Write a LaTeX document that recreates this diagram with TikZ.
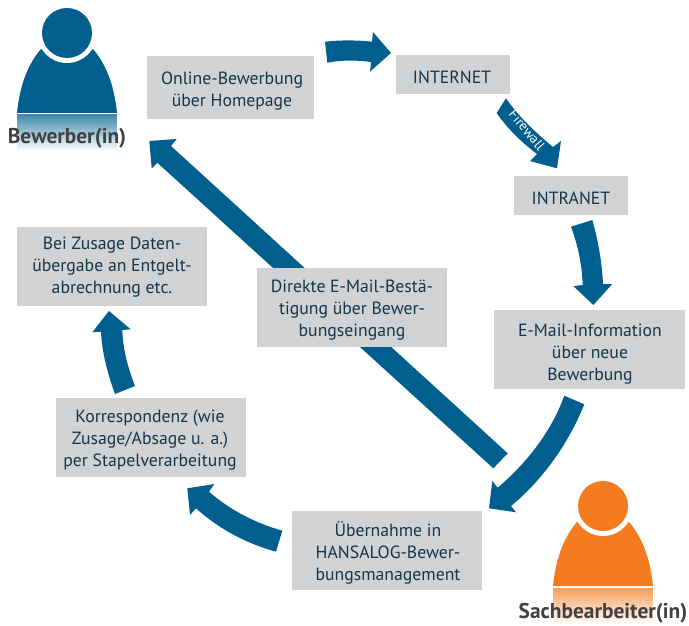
\documentclass[tikz,border=0pt]{standalone}
\usepackage{fontspec}
\setmainfont{PT Sans}
\usetikzlibrary{fadings}
\definecolor{blu}{HTML}{005F8E}
\definecolor{ora}{HTML}{F57B20}
\definecolor{gry}{HTML}{D1D2D4}
\definecolor{txt}{HTML}{14364A}
\definecolor{lab}{HTML}{414042}
\tikzset{x=1pt,y=-1pt,
 lbl/.style={font=\fontsize{17.7}{22}\selectfont,text=txt,align=center,inner sep=0pt},
 boxx/.style={fill=gry,draw=none},
 pers/.style={font=\fontsize{21.4}{22}\selectfont\bfseries,text=lab,inner sep=0pt}}
\tikzfading[name=fdown,top color=transparent!25,bottom color=transparent!100]
\newcommand{\person}[3]{%
 \begin{scope}[shift={(#1,#2)}]
  \fill[#3] (-50,0) .. controls (-47,-30) and (-38,-50) .. (-26,-64) -- (26,-64) .. controls (38,-50) and (47,-30) .. (50,0) -- cycle;
  \fill[white] (0,-80) circle (30);
  \fill[#3] (0,-80) circle (25);
  \fill[#3,path fading=fdown] (-50,1.5) rectangle (50,38);
 \end{scope}}
\begin{document}
\begin{tikzpicture}
\useasboundingbox (0,0) rectangle (689,626);
\person{67}{113}{blu}
\person{603}{586}{ora}
% boxes
\fill[boxx] (147,56) rectangle (314,119);
\fill[boxx] (396,55) rectangle (510,94);
\fill[boxx] (514,176) rectangle (628,215);
\fill[boxx] (494,310) rectangle (685,389);
\fill[boxx] (292,511) rectangle (482,590);
\fill[boxx] (56,398) rectangle (246,477);
\fill[boxx] (17,227) rectangle (207,306);
% diagonal arrow
\fill[blu] (149.3,141) -- (176.7,139) -- (171,146) -- (507.7,453.3) -- (493.3,468.3) -- (157.3,162.7) -- (151.7,168.3) -- cycle;
\fill[boxx] (257,268) rectangle (447,347);
% curved arrows
\fill[blu] (325,41.7) .. controls (340,40) and (356,40) .. (372,41.7) -- (373,32) -- (391,53) -- (370,71.7) -- (371,62) .. controls (356,60) and (341,60) .. (327.3,62.7) -- cycle;
\fill[blu] (506,98.3) .. controls (518,116) and (535,132) .. (553,147) -- (561,141) -- (557,168.3) -- (530,161) -- (537,154) .. controls (520,141) and (507,128) .. (496.7,113) -- cycle;
\fill[blu] (592.3,220) .. controls (598,240) and (602,262) .. (603,284) -- (612.3,284) -- (593.3,305) -- (573.3,286) -- (582.7,285) .. controls (582,265) and (578,245) .. (571,226.7) -- cycle;
\fill[blu] (584.3,404.3) .. controls (570,440) and (545,478) .. (511,506) -- (516,512.3) -- (489,508.3) -- (492.3,481) -- (497.7,487.7) .. controls (528,462) and (552,430) .. (564.3,395.7) -- cycle;
\fill[blu] (282.3,530.7) -- (276,551.7) .. controls (248,544) and (220,530) .. (196,508.3) -- (190,515) -- (187.3,488.3) -- (214.3,484) -- (209,491.7) .. controls (230,510) and (255,523) .. (282.3,530.7) -- cycle;
\fill[blu] (135,386) -- (115,394) .. controls (107,372) and (102,352) .. (101,331.7) -- (92.3,332.3) -- (109,311) -- (130.7,329.3) -- (122.3,330) .. controls (123,350) and (128,368) .. (135,386) -- cycle;
% texts
\node[lbl] (a) at (232,91) {Online-Bewerbung\\über Homepage};
\node[lbl] (b) at (452,77) {INTERNET};
\node[lbl] (c) at (571,198) {INTRANET};
\node[lbl] (d) at (590,354) {E-Mail-Information\\über neue\\Bewerbung};
\node[lbl] (e) at (388,553) {Übernahme in\\HANSALOG-Bewer-\\bungsmanagement};
\node[lbl] (f) at (150,440) {Korrespondenz (wie\\Zusage/Absage u. a.)\\per Stapelverarbeitung};
\node[lbl] (g) at (112,267) {Bei Zusage Daten-\\übergabe an Entgelt-\\abrechnung etc.};
\node[lbl] (h) at (352,310) {Direkte E-Mail-Bestä-\\tigung über Bewer-\\bungseingang};
\node[font=\fontsize{13.8}{14}\selectfont,text=white,rotate=-50,inner sep=0pt] (fw) at (527,130) {Firewall};
\node[pers] (p1) at (67,138) {Bewerber(in)};
\node[pers] (p2) at (603,613) {Sachbearbeiter(in)};
\end{tikzpicture}
\end{document}
